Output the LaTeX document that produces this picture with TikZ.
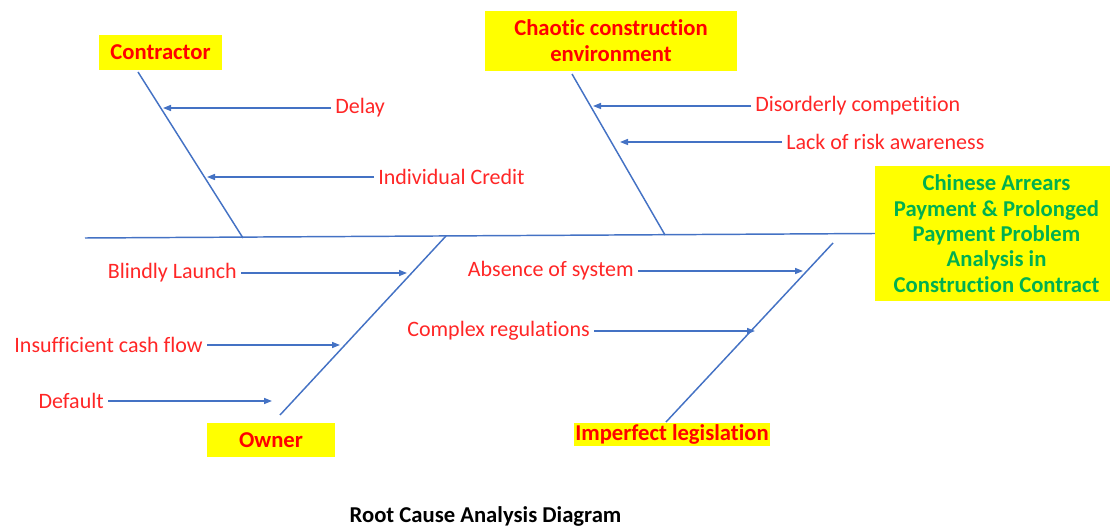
\documentclass[tikz,border=0pt]{standalone}
\usepackage{fontspec}
\setmainfont[Ligatures=NoCommon]{Carlito}
\usepackage{xcolor}
\usetikzlibrary{arrows.meta,positioning,calc}
\definecolor{bonecol}{RGB}{68,114,196}
\definecolor{causered}{RGB}{255,38,38}
\definecolor{headyellow}{RGB}{255,255,0}
\definecolor{effectgreen}{RGB}{0,176,80}

\begin{document}
\begin{tikzpicture}[x=0.75pt,y=-0.75pt,
    head/.style={rectangle,fill=headyellow,text=red,align=center,inner sep=0pt,
      font=\fontsize{17}{19.5}\selectfont\bfseries},
    effect/.style={rectangle,fill=headyellow,text=effectgreen,align=center,
      minimum width=176pt,minimum height=101pt,inner sep=0pt,
      font=\fontsize{17}{19}\selectfont\bfseries},
    cause/.style={text=causered,inner sep=3pt,font=\fontsize{16.5}{19}\selectfont},
    bone/.style={draw=bonecol,line width=1.1pt},
    a/.style={-{Triangle[length=6pt,width=4.5pt]},bonecol,line width=1.1pt}]
    \useasboundingbox (0,0) rectangle (1110,527);
    % heads and effect
    \node[head,minimum width=92pt,minimum height=26pt] (contractor) at (160.5,52.5) {Contractor};
    \node[head,minimum width=189pt,minimum height=45pt] (chaotic) at (611,41) {Chaotic construction\\environment};
    \node[head,minimum width=96pt,minimum height=25.5pt] (owner) at (271,440) {Owner};
    \node[head,inner sep=1pt] (legis) at (672,434.5) {Imperfect legislation};
    \node[effect] (problem) at (992.5,233.5) {\hspace*{6pt}Chinese Arrears\\\hspace*{6pt}Payment \& Prolonged\\\hspace*{6pt}Payment Problem\\\hspace*{6pt}Analysis in\\\hspace*{6pt}Construction Contract};
    % spine and bones
    \coordinate (tail) at (85,238);
    \coordinate (c1) at (138,72);  \coordinate (c2) at (243,238);
    \coordinate (e1) at (572,74);  \coordinate (e2) at (665,235);
    \coordinate (o1) at (280,415); \coordinate (o2) at (446,236);
    \coordinate (l1) at (666,422); \coordinate (l2) at (833,243);
    \draw[bone] (tail) -- (problem.west);
    \draw[bone] (c1) -- (c2); \draw[bone] (e1) -- (e2);
    \draw[bone] (o1) -- (o2); \draw[bone] (l1) -- (l2);
    % causes
    \node[cause,anchor=west] (delay) at (331,108) {Delay};
    \node[cause,anchor=west] (credit) at (374,177) {Individual Credit};
    \node[cause,anchor=west] (disorder) at (751,106) {Disorderly competition};
    \node[cause,anchor=west] (risk) at (782,142) {Lack of risk awareness};
    \node[cause,anchor=east] (blind) at (241,273) {Blindly Launch};
    \node[cause,anchor=east] (cash) at (207,345) {Insufficient cash flow};
    \node[cause,anchor=east] (default) at (108,401) {Default};
    \node[cause,anchor=east] (absence) at (638,271) {Absence of system};
    \node[cause,anchor=east] (complex) at (594,331) {Complex regulations};
    \coordinate (dly) at (163,108); \coordinate (crd) at (207,177);
    \coordinate (dis) at (593,106); \coordinate (rsk) at (620,142);
    \coordinate (bli) at (407,273); \coordinate (csh) at (340,345);
    \coordinate (dft) at (272,401); \coordinate (abs) at (803,271);
    \coordinate (cpx) at (755,331);
    \draw[a] (delay.west) -- (dly); \draw[a] (credit.west) -- (crd);
    \draw[a] (disorder.west) -- (dis); \draw[a] (risk.west) -- (rsk);
    \draw[a] (blind.east) -- (bli); \draw[a] (cash.east) -- (csh);
    \draw[a] (default.east) -- (dft); \draw[a] (absence.east) -- (abs);
    \draw[a] (complex.east) -- (cpx);
    % caption
    \node[font=\fontsize{17}{20}\selectfont\bfseries] (caption) at (485.5,516) {Root Cause Analysis Diagram};
\end{tikzpicture}
\end{document}
